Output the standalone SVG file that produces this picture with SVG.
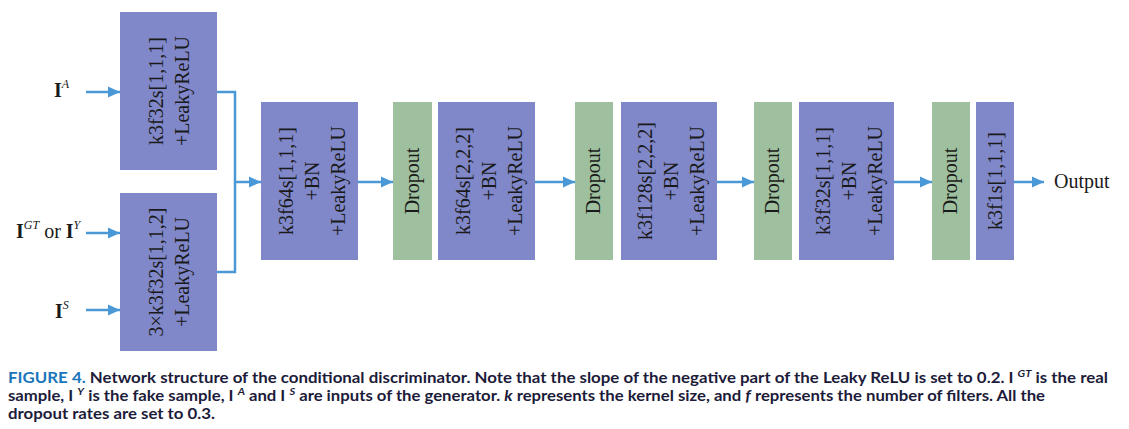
<svg xmlns="http://www.w3.org/2000/svg" width="1129" height="429" viewBox="0 0 1129 429">
<style>
.conv{fill:#8088c9}
.drop{fill:#9ec09e}
.lbl{font-family:"Liberation Serif","Times New Roman",serif;font-size:20px;fill:#1a1a1a;text-anchor:middle}
.inp{font-family:"Liberation Serif","Times New Roman",serif;font-size:20px;fill:#1a1a1a}
.b{font-weight:bold}
.sup{font-style:italic;font-size:12px}
.con{stroke:#4a98d6;stroke-width:2.5;fill:none}
.cap{font-family:Lato,"Noto Sans","Liberation Sans",sans-serif;font-weight:700;font-size:15px;fill:#1c1b3a}
.capb{fill:#1b75bb}
.it{font-style:italic}
.csup{font-size:10px;font-style:italic}
</style>
<defs>
<marker id="ah" markerUnits="userSpaceOnUse" markerWidth="12" markerHeight="12" refX="12" refY="6" orient="auto">
<path d="M0,0.5 L12,6 L0,11.5 z" fill="#4a98d6"/>
</marker>
</defs>
<rect width="1129" height="429" fill="#ffffff"/>

<g id="in_A"><text class="inp" x="54" y="97"><tspan class="b">I</tspan><tspan class="sup" dy="-9">A</tspan></text></g>
<g id="in_GT"><text class="inp" x="16" y="238"><tspan class="b">I</tspan><tspan class="sup" dy="-9">GT</tspan><tspan dy="9"> or </tspan><tspan class="b">I</tspan><tspan class="sup" dy="-9">Y</tspan></text></g>
<g id="in_S"><text class="inp" x="55" y="318"><tspan class="b">I</tspan><tspan class="sup" dy="-9">S</tspan></text></g>

<g id="box1"><rect class="conv" x="120" y="12" width="97" height="158"/>
<text class="lbl" transform="translate(168.5,91) rotate(-90)"><tspan x="0" y="-5.5">k3f32s[1,1,1]</tspan><tspan x="0" y="20.5">+LeakyReLU</tspan></text></g>
<g id="box2"><rect class="conv" x="120" y="193" width="97" height="158"/>
<text class="lbl" transform="translate(168.5,272) rotate(-90)"><tspan x="0" y="-5.5">3×k3f32s[1,1,2]</tspan><tspan x="0" y="20.5">+LeakyReLU</tspan></text></g>
<g id="box3"><rect class="conv" x="261" y="102" width="97" height="158"/>
<text class="lbl" transform="translate(309.5,181) rotate(-90)"><tspan x="0" y="-17">k3f64s[1,1,1]</tspan><tspan x="0" y="9">+BN</tspan><tspan x="0" y="35">+LeakyReLU</tspan></text></g>
<g id="drop1"><rect class="drop" x="393" y="102" width="39" height="158"/>
<text class="lbl" transform="translate(412.5,181) rotate(-90)" y="6">Dropout</text></g>
<g id="box4"><rect class="conv" x="438" y="102" width="97" height="158"/>
<text class="lbl" transform="translate(486.5,181) rotate(-90)"><tspan x="0" y="-17">k3f64s[2,2,2]</tspan><tspan x="0" y="9">+BN</tspan><tspan x="0" y="35">+LeakyReLU</tspan></text></g>
<g id="drop2"><rect class="drop" x="575" y="102" width="38" height="158"/>
<text class="lbl" transform="translate(594,181) rotate(-90)" y="6">Dropout</text></g>
<g id="box5"><rect class="conv" x="621" y="102" width="96" height="158"/>
<text class="lbl" transform="translate(669,181) rotate(-90)"><tspan x="0" y="-17">k3f128s[2,2,2]</tspan><tspan x="0" y="9">+BN</tspan><tspan x="0" y="35">+LeakyReLU</tspan></text></g>
<g id="drop3"><rect class="drop" x="754" y="102" width="38" height="158"/>
<text class="lbl" transform="translate(773,181) rotate(-90)" y="6">Dropout</text></g>
<g id="box6"><rect class="conv" x="799" y="102" width="95" height="158"/>
<text class="lbl" transform="translate(846.5,181) rotate(-90)"><tspan x="0" y="-17">k3f32s[1,1,1]</tspan><tspan x="0" y="9">+BN</tspan><tspan x="0" y="35">+LeakyReLU</tspan></text></g>
<g id="drop4"><rect class="drop" x="932" y="102" width="38" height="158"/>
<text class="lbl" transform="translate(951,181) rotate(-90)" y="6">Dropout</text></g>
<g id="box7"><rect class="conv" x="976" y="102" width="38" height="158"/>
<text class="lbl" transform="translate(995,181) rotate(-90)" y="6.5">k3f1s[1,1,1]</text></g>
<g id="output"><text class="inp" x="1054" y="188">Output</text></g>

<g id="connectors">
<path class="con" d="M86,92 H120" marker-end="url(#ah)"/>
<path class="con" d="M86,233 H120" marker-end="url(#ah)"/>
<path class="con" d="M86,310 H120" marker-end="url(#ah)"/>
<path class="con" d="M217,92 H235 V272 H217"/>
<path class="con" d="M235,182 H261" marker-end="url(#ah)"/>
<path class="con" d="M358,182 H393" marker-end="url(#ah)"/>
<path class="con" d="M535,182 H575" marker-end="url(#ah)"/>
<path class="con" d="M717,182 H754" marker-end="url(#ah)"/>
<path class="con" d="M894,182 H932" marker-end="url(#ah)"/>
<path class="con" d="M1014,182 H1044" marker-end="url(#ah)"/>
</g>

<g id="caption">
<text class="cap" x="8" y="383" textLength="1100" lengthAdjust="spacingAndGlyphs"><tspan class="capb">FIGURE 4.</tspan>  Network structure of the conditional discriminator. Note that the slope of the negative part of the Leaky ReLU is set to 0.2. I <tspan class="csup" dy="-6">GT</tspan><tspan dy="6"> is the real</tspan></text>
<text class="cap" x="8" y="401" textLength="1037" lengthAdjust="spacingAndGlyphs">sample, I <tspan class="csup" dy="-6">Y</tspan><tspan dy="6"> is the fake sample, I </tspan><tspan class="csup" dy="-6">A</tspan><tspan dy="6"> and I </tspan><tspan class="csup" dy="-6">S</tspan><tspan dy="6"> are inputs of the generator. </tspan><tspan class="it">k</tspan> represents the kernel size, and <tspan class="it">f</tspan> represents the number of filters. All the</text>
<text class="cap" x="8" y="419" textLength="207" lengthAdjust="spacingAndGlyphs">dropout rates are set to 0.3.</text>
</g>
</svg>
